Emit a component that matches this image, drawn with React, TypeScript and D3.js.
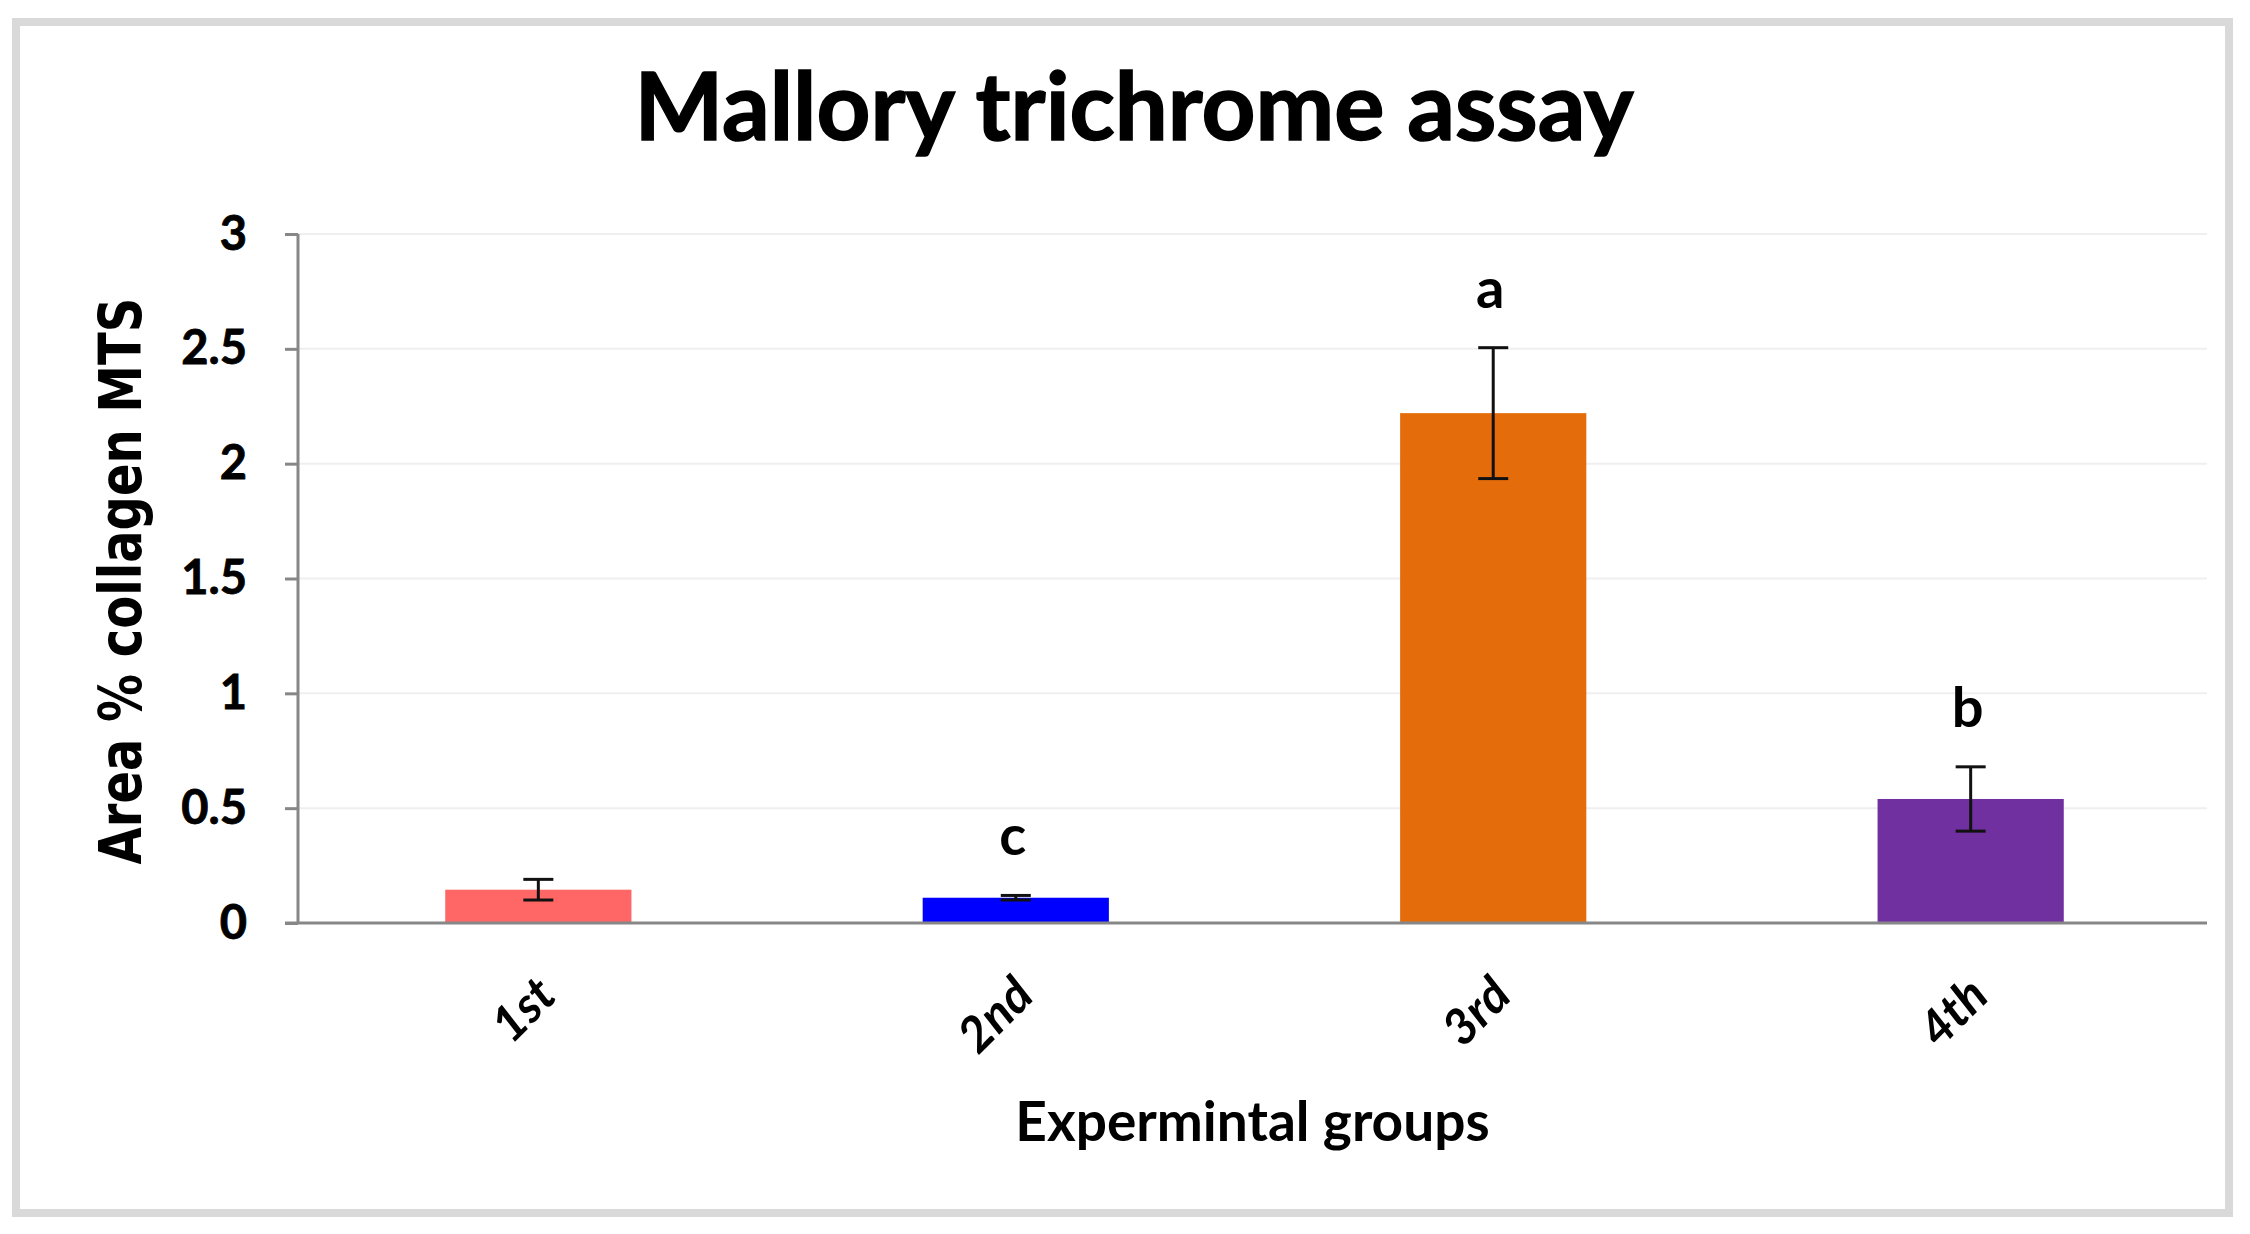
import React, { useEffect, useRef } from 'react';
import * as d3 from 'd3';

const groups = ['1st', '2nd', '3rd', '4th'];
const means = [0.145, 0.11, 2.22, 0.54];
const errors = [0.045, 0.01, 0.285, 0.14];
const letters = ['', 'c', 'a', 'b'];
const barColors = ['#ff6666', '#0000ff', '#e46c0a', '#7030a0'];
const yTicks = [0, 0.5, 1, 1.5, 2, 2.5, 3];

const width = 2250;
const height = 1234;
const margin = { left: 298, right: 43, top: 234, bottom: 311 };

const calibri = 'Lato, Carlito, Calibri, sans-serif';
const verdana = '"DejaVu Sans", Verdana, sans-serif';

const chart = (svgEl: d3.Selection<SVGSVGElement, any, any, any>) => {
  const x = d3
    .scaleBand<string>()
    .domain(groups)
    .range([margin.left + 4, width - margin.right])
    .paddingInner(0.61)
    .paddingOuter(0.3);

  const y = d3
    .scaleLinear()
    .domain([0, 3])
    .range([height - margin.bottom, margin.top]);

  // outer frame
  svgEl
    .append('rect')
    .attr('x', 16)
    .attr('y', 22)
    .attr('width', 2213)
    .attr('height', 1191)
    .attr('fill', '#fff')
    .attr('stroke', '#d9d9d9')
    .attr('stroke-width', 8);

  // title
  svgEl
    .append('text')
    .attr('x', 1134)
    .attr('y', 140)
    .attr('text-anchor', 'middle')
    .style('font', `bold 94px ${calibri}`)
    .attr('fill', '#000')
    .attr('stroke', '#000')
    .attr('stroke-width', 1.5)
    .text('Mallory trichrome assay');

  // gridlines
  svgEl
    .append('g')
    .selectAll('line')
    .data(yTicks.slice(1))
    .join('line')
    .attr('x1', margin.left)
    .attr('x2', width - margin.right)
    .attr('y1', (d) => y(d))
    .attr('y2', (d) => y(d))
    .attr('stroke', '#efefef')
    .attr('stroke-width', 2);

  // bars
  svgEl
    .append('g')
    .selectAll('rect')
    .data(groups)
    .join('rect')
    .attr('x', (d) => x(d)!)
    .attr('width', x.bandwidth())
    .attr('y', (d, i) => y(means[i]))
    .attr('height', (d, i) => y(0) - y(means[i]))
    .attr('fill', (d, i) => barColors[i]);

  // error bars
  const eb = svgEl
    .append('g')
    .attr('stroke', '#111')
    .attr('stroke-width', 3)
    .selectAll('g')
    .data(groups)
    .join('g')
    .attr('transform', (d) => `translate(${x(d)! + x.bandwidth() / 2},0)`);
  eb.append('line')
    .attr('y1', (d, i) => y(means[i] + errors[i]))
    .attr('y2', (d, i) => y(means[i] - errors[i]));
  eb.append('line')
    .attr('x1', -15)
    .attr('x2', 15)
    .attr('y1', (d, i) => y(means[i] + errors[i]))
    .attr('y2', (d, i) => y(means[i] + errors[i]));
  eb.append('line')
    .attr('x1', -15)
    .attr('x2', 15)
    .attr('y1', (d, i) => y(means[i] - errors[i]))
    .attr('y2', (d, i) => y(means[i] - errors[i]));

  // significance letters
  svgEl
    .append('g')
    .selectAll('text')
    .data(groups)
    .join('text')
    .attr('x', (d) => x(d)! + x.bandwidth() / 2 - 3)
    .attr('y', (d, i) => y(means[i] + errors[i]) - 40)
    .attr('text-anchor', 'middle')
    .style('font', `bold 56px ${calibri}`)
    .text((d, i) => letters[i]);

  // y axis
  const yAxis = svgEl
    .append('g')
    .attr('transform', `translate(${margin.left},0)`)
    .call(d3.axisLeft(y).tickValues(yTicks).tickSize(13).tickPadding(38).tickFormat(d3.format('')));
  yAxis.select('.domain').remove();
  yAxis.selectAll('.tick line').attr('stroke', '#878787').attr('stroke-width', 3);
  yAxis
    .selectAll('.tick text')
    .attr('fill', '#000')
    .attr('stroke', '#000')
    .attr('stroke-width', 0.8)
    .style('font', `bold 47px ${calibri}`);

  svgEl
    .append('line')
    .attr('x1', margin.left)
    .attr('x2', margin.left)
    .attr('y1', y(3))
    .attr('y2', y(0))
    .attr('stroke', '#878787')
    .attr('stroke-width', 3);

  // x axis
  svgEl
    .append('line')
    .attr('x1', margin.left - 13)
    .attr('x2', width - margin.right)
    .attr('y1', y(0))
    .attr('y2', y(0))
    .attr('stroke', '#878787')
    .attr('stroke-width', 3);

  svgEl
    .append('g')
    .selectAll('text')
    .data(groups)
    .join('text')
    .attr('transform', (d) => `translate(${x(d)! + x.bandwidth() / 2 + 8},986) rotate(-45)`)
    .attr('text-anchor', 'end')
    .attr('dy', '0.35em')
    .style('font', `italic bold 49px ${calibri}`)
    .text((d) => d);

  // axis titles
  svgEl
    .append('text')
    .attr('x', (margin.left + width - margin.right) / 2)
    .attr('y', 1141)
    .attr('text-anchor', 'middle')
    .style('font', `bold 55px ${calibri}`)
    .text('Expermintal groups');

  svgEl
    .append('text')
    .attr('transform', 'translate(141,581) scale(1.22,1) rotate(-90)')
    .attr('text-anchor', 'middle')
    .style('font', `bold 48px ${verdana}`)
    .text('Area % collagen MTS');
};

export default function App() {
  const svgRef = useRef(null);

  useEffect(() => {
    if (svgRef.current === null) {
      return;
    }
    const svgEl: d3.Selection<SVGSVGElement, any, any, any> = d3.select(svgRef.current);
    svgEl.selectAll('*').remove();
    chart(svgEl);
  }, []);

  return (
    <svg
      ref={svgRef}
      width={width}
      height={height}
      style={{ position: 'absolute', left: 0, top: 0, background: '#fff' }}
    ></svg>
  );
}
